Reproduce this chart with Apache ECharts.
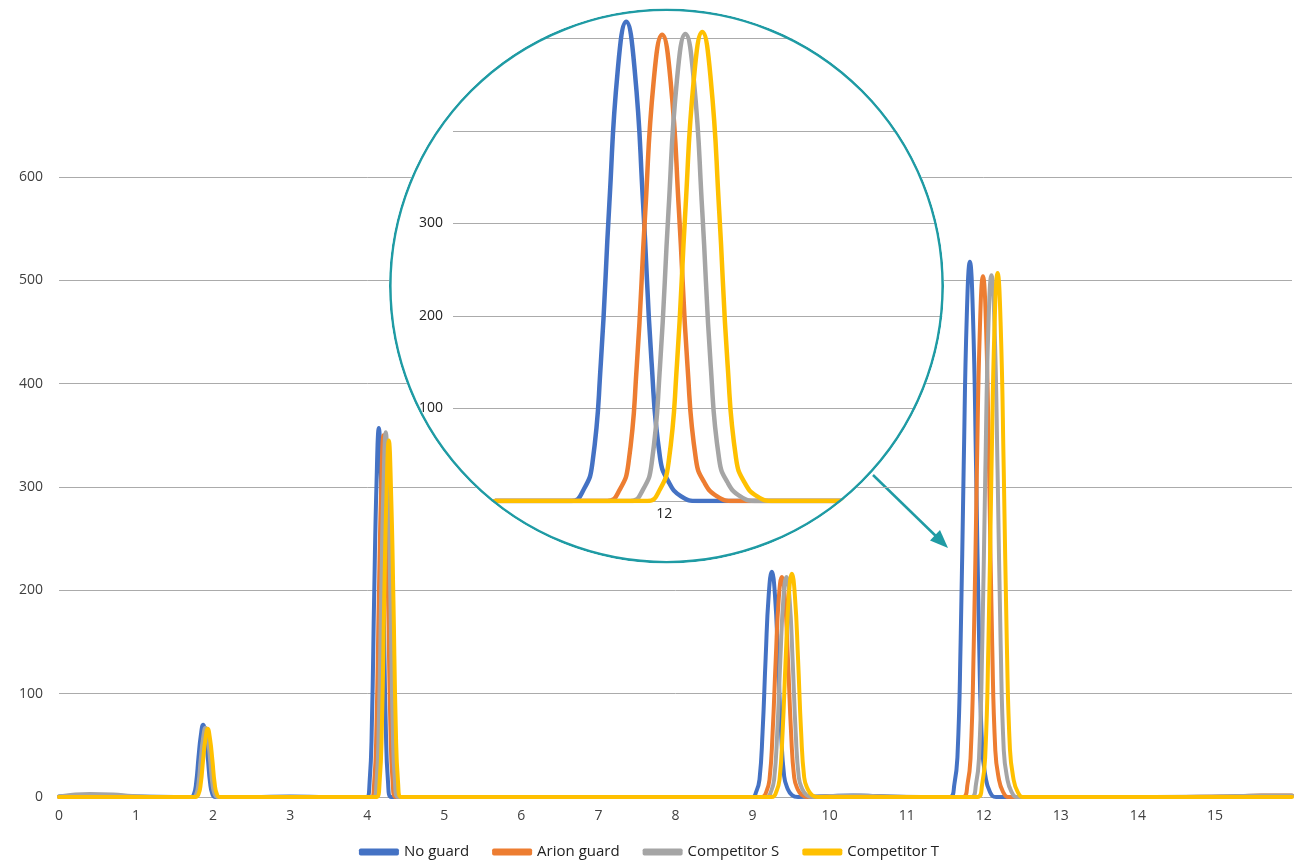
<!DOCTYPE html>
<html>
<head>
<meta charset="utf-8">
<script src="https://cdn.jsdelivr.net/npm/echarts@6/dist/echarts.min.js"></script>
<style>
  html, body { margin: 0; padding: 0; background: #fff; }
  #main { position: absolute; left: 0; top: 0; width: 1298px; height: 866px; }
  #zoom { position: absolute; left: 0; top: 0; width: 1298px; height: 866px;
          background: #fff; clip-path: circle(277.5px at 666.5px 286px); }
</style>
</head>
<body>
<div id="main"></div>
<div id="zoom"></div>
<script>
// Chromatogram traces, [retention time (min), signal]
const seriesNames = ['No guard', 'Arion guard', 'Competitor S', 'Competitor T'];
const seriesColors = ['#4472C4', '#ED7D31', '#A5A5A5', '#FFC000'];

const noGuard = [
  [0, 0.5], [0.2, 1.5], [0.4, 2], [0.7, 1.5], [1.0, 0.5], [1.5, 0],
  [1.71, 0], [1.75, 2.8], [1.78, 14], [1.81, 38.5], [1.84, 59.5], [1.87, 70], [1.90, 59.5], [1.93, 38.5], [1.96, 14], [1.99, 2.8], [2.03, 0],
  [2.5, 0], [3.0, 0.5], [3.5, 0],
  [3.99, 0], [4.03, 14], [4.06, 71], [4.09, 196], [4.12, 303], [4.15, 357], [4.18, 303], [4.21, 196], [4.24, 71], [4.27, 14], [4.31, 0],
  [5, 0], [7, 0],
  [8.99, 0], [9.05, 5.5], [9.09, 17], [9.13, 63], [9.17, 135], [9.21, 196], [9.25, 218], [9.29, 196], [9.33, 135], [9.37, 63], [9.41, 20], [9.45, 9], [9.51, 2], [9.59, 0],
  [10.0, 1], [10.3, 1.5], [10.6, 1], [11.0, 0], [11.2, 0],
  [11.56, 0], [11.62, 13], [11.66, 41], [11.70, 150], [11.74, 321], [11.78, 466], [11.82, 518], [11.86, 466], [11.90, 321], [11.94, 150], [11.98, 47], [12.02, 21], [12.08, 5], [12.16, 0],
  [12.85, 0], [13.5, 0], [15, 0], [15.5, 0.5], [16, 1]
];

const arionGuard = [
  [0, 0], [1.5, 0],
  [1.75, 0], [1.79, 2.6], [1.82, 13], [1.85, 36], [1.88, 56], [1.91, 66], [1.94, 56], [1.97, 36], [2.00, 13], [2.03, 2.6], [2.07, 0],
  [3.5, 0],
  [4.05, 0], [4.09, 14], [4.12, 70], [4.15, 192], [4.18, 297], [4.21, 350], [4.24, 297], [4.27, 192], [4.30, 70], [4.33, 14], [4.37, 0],
  [6, 0], [8, 0],
  [9.12, 0], [9.18, 5.3], [9.22, 17], [9.26, 62], [9.30, 132], [9.34, 192], [9.38, 213], [9.42, 192], [9.46, 132], [9.50, 62], [9.54, 19], [9.58, 8.5], [9.64, 2], [9.72, 0],
  [10.2, 0.5], [11.0, 0], [11.2, 0],
  [11.73, 0], [11.79, 12.6], [11.83, 40], [11.87, 146], [11.91, 312], [11.95, 454], [11.99, 504], [12.03, 454], [12.07, 312], [12.11, 146], [12.15, 45], [12.19, 20], [12.25, 5], [12.33, 0],
  [12.85, 0], [14, 0], [15.2, 0.5], [15.6, 1.5], [16, 1.5]
];

const competitorS = [
  [0, 0.5], [0.15, 2], [0.4, 3], [0.7, 2.5], [0.95, 1], [1.3, 0],
  [1.74, 0], [1.78, 2.7], [1.81, 13.4], [1.84, 37], [1.87, 57], [1.90, 67], [1.93, 57], [1.96, 37], [1.99, 13.4], [2.02, 2.7], [2.06, 0],
  [3.5, 0],
  [4.08, 0], [4.12, 14], [4.15, 71], [4.18, 194], [4.21, 300], [4.24, 353], [4.27, 300], [4.30, 194], [4.33, 71], [4.36, 14], [4.40, 0],
  [6, 0], [8, 0],
  [9.18, 0], [9.24, 5.3], [9.28, 17], [9.32, 62], [9.36, 132], [9.40, 192], [9.44, 213], [9.48, 192], [9.52, 132], [9.56, 62], [9.60, 19], [9.64, 8.5], [9.70, 2], [9.78, 0],
  [10.0, 1], [10.4, 1.5], [10.7, 0.5], [11.2, 0],
  [11.84, 0], [11.90, 12.6], [11.94, 40], [11.98, 146], [12.02, 313], [12.06, 455], [12.10, 505], [12.14, 455], [12.18, 313], [12.22, 146], [12.26, 45], [12.30, 20], [12.36, 5], [12.44, 0],
  [12.85, 0], [14, 0], [15.3, 1], [15.6, 1.5], [16, 1.5]
];

const competitorT = [
  [0, 0], [1.5, 0],
  [1.77, 0], [1.81, 2.6], [1.84, 13], [1.87, 36], [1.90, 56], [1.93, 66], [1.96, 56], [1.99, 36], [2.02, 13], [2.05, 2.6], [2.09, 0],
  [3.5, 0],
  [4.12, 0], [4.16, 14], [4.19, 69], [4.22, 190], [4.25, 293], [4.28, 345], [4.31, 293], [4.34, 190], [4.37, 69], [4.40, 14], [4.44, 0],
  [6, 0], [8, 0],
  [9.25, 0], [9.31, 5.4], [9.35, 17], [9.39, 63], [9.43, 134], [9.47, 194], [9.51, 216], [9.55, 194], [9.59, 134], [9.63, 63], [9.67, 19], [9.71, 8.6], [9.77, 2], [9.85, 0],
  [11.2, 0],
  [11.92, 0], [11.98, 12.7], [12.02, 41], [12.06, 147], [12.10, 314], [12.14, 456], [12.18, 507], [12.22, 456], [12.26, 314], [12.30, 147], [12.34, 46], [12.38, 20], [12.44, 5], [12.52, 0],
  [12.85, 0], [14, 0], [15, 0], [16, 0]
];

const traces = [noGuard, arionGuard, competitorS, competitorT];

// Tick labels
const xTicks = [0, 1, 2, 3, 4, 5, 6, 7, 8, 9, 10, 11, 12, 13, 14, 15];
const yTicks = [0, 100, 200, 300, 400, 500, 600];
const zoomYTicks = [100, 200, 300];
const zoomXTicks = [12];
const zoomWindow = [11.2, 12.85];

const FONT = 'Open Sans';
const LABEL = '#404040';
const GRIDLINE = '#ababab';
const TEAL = '#1f9ba4';

function lineSeries(data, i, width) {
  return {
    type: 'line',
    name: seriesNames[i],
    data: data,
    color: seriesColors[i],
    showSymbol: false,
    smooth: 0.5,
    lineStyle: { width: width, color: seriesColors[i], cap: 'round', join: 'round' },
    z: 2 + i,
    animation: false
  };
}

// Full run
const main = echarts.init(document.getElementById('main'));
main.setOption({
  animation: false,
  grid: { left: 59, right: 6, top: 177, bottom: 69 },
  xAxis: {
    type: 'value', min: 0, max: 16, interval: 1,
    axisLine: { show: false }, axisTick: { show: false }, splitLine: { show: false },
    axisLabel: {
      margin: 12, fontFamily: FONT, fontSize: 14, color: LABEL,
      formatter: v => (xTicks.indexOf(Math.round(v * 100) / 100) >= 0 ? String(v) : '')
    }
  },
  yAxis: {
    type: 'value', min: yTicks[0], max: yTicks[yTicks.length - 1], interval: 100,
    axisLine: { show: false }, axisTick: { show: false },
    splitLine: { lineStyle: { color: GRIDLINE, width: 1 } },
    axisLabel: { margin: 16, fontFamily: FONT, fontSize: 14, color: LABEL }
  },
  legend: {
    top: 838, left: 'center',
    icon: 'roundRect', itemWidth: 40, itemHeight: 7, itemGap: 23,
    textStyle: { fontFamily: FONT, fontSize: 15, color: '#222', lineHeight: 18 },
    data: seriesNames
  },
  graphic: [
    { type: 'line', shape: { x1: 873, y1: 475, x2: 942, y2: 542 },
      style: { stroke: TEAL, lineWidth: 2.5 } },
    { type: 'polygon', shape: { points: [[948, 548], [930, 540.5], [940, 530]] },
      style: { fill: TEAL } }
  ],
  series: traces.map((d, i) => lineSeries(d, i, 4))
});

// Magnified view of the last peak group
const zoom = echarts.init(document.getElementById('zoom'));
zoom.setOption({
  animation: false,
  grid: { left: 453, right: 338, top: 1.5, bottom: 365 },
  xAxis: {
    type: 'value', min: 11, max: 13.4, interval: 0.5,
    axisLine: { show: false }, axisTick: { show: false }, splitLine: { show: false },
    axisLabel: {
      margin: 6, fontFamily: FONT, fontSize: 14, color: '#222',
      formatter: v => (zoomXTicks.indexOf(Math.round(v * 100) / 100) >= 0 ? String(v) : '')
    }
  },
  yAxis: {
    type: 'value', min: 0, max: 540, interval: 100,
    axisLine: { show: false }, axisTick: { show: false },
    splitLine: { lineStyle: { color: GRIDLINE, width: 1 } },
    axisLabel: {
      margin: 10, fontFamily: FONT, fontSize: 14, color: '#222',
      formatter: v => (zoomYTicks.indexOf(v) >= 0 ? String(v) : '')
    }
  },
  graphic: [
    { type: 'circle', z: 100, shape: { cx: 666.5, cy: 286, r: 276.2 },
      style: { fill: 'none', stroke: TEAL, lineWidth: 2.6 } }
  ],
  series: traces.map((d, i) =>
    lineSeries(d.filter(p => p[0] >= zoomWindow[0] && p[0] <= zoomWindow[1]), i, 4.5))
});
</script>
</body>
</html>
